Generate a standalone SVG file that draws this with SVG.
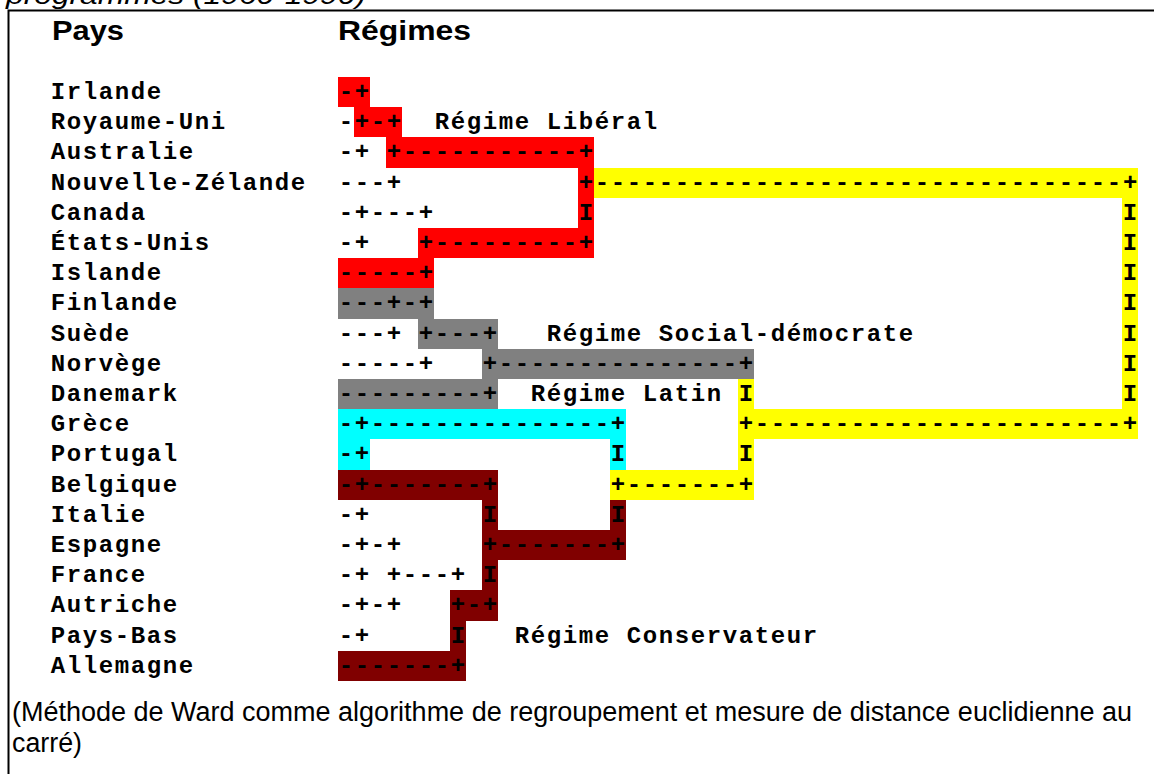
<svg xmlns="http://www.w3.org/2000/svg" width="1154" height="774" viewBox="0 0 1154 774">
<style>
.m{font-family:"Liberation Mono","Courier New",monospace;font-weight:bold;font-size:24px;letter-spacing:1.6px;fill:#000}
.h{font-family:"Liberation Sans",Arial,sans-serif;font-weight:bold;font-size:28px;fill:#000}
.n{font-family:"Liberation Sans",Arial,sans-serif;font-size:27px;fill:#000}
.t{font-family:"Liberation Sans",Arial,sans-serif;font-style:italic;font-size:26px;fill:#000}
.hl rect{shape-rendering:crispEdges}
.red{fill:#FF0000}.gray{fill:#808080}.yel{fill:#FFFF00}.cyan{fill:#00FFFF}.dred{fill:#800000}
</style>
<rect width="1154" height="774" fill="#fff"/>
<text class="t" x="6" y="4" textLength="360" lengthAdjust="spacingAndGlyphs">programmes (1960-1990)</text>
<path d="M8.5 774 V10.5 H1154" fill="none" stroke="#000" stroke-width="2"/>
<text class="h" x="52" y="40" textLength="72" lengthAdjust="spacingAndGlyphs">Pays</text>
<text class="h" x="338" y="40" textLength="133" lengthAdjust="spacingAndGlyphs">Régimes</text>

<g id="clusters" class="hl">
  <g id="cluster-liberal" class="red">
    <rect x="338" y="77" width="32" height="30.2"/>
    <rect x="354" y="107.2" width="48" height="30.2"/>
    <rect x="386" y="137.4" width="208" height="30.2"/>
    <rect x="578" y="167.6" width="16" height="60.4"/>
    <rect x="418" y="228" width="176" height="30.2"/>
    <rect x="338" y="258.2" width="96" height="30.2"/>
  </g>
  <g id="cluster-social-democrate" class="gray">
    <rect x="338" y="288.4" width="96" height="30.2"/>
    <rect x="418" y="318.6" width="80" height="30.2"/>
    <rect x="482" y="348.8" width="272" height="30.2"/>
    <rect x="338" y="379" width="160" height="30.2"/>
  </g>
  <g id="cluster-fusion" class="yel">
    <rect x="594" y="167.6" width="544" height="30.2"/>
    <rect x="1122" y="197.8" width="16" height="211.4"/>
    <rect x="738" y="409.2" width="400" height="30.2"/>
    <rect x="738" y="379" width="16" height="90.6"/>
    <rect x="610" y="469.6" width="144" height="30.2"/>
  </g>
  <g id="cluster-latin" class="cyan">
    <rect x="338" y="409.2" width="288" height="30.2"/>
    <rect x="338" y="439.4" width="32" height="30.2"/>
    <rect x="610" y="439.4" width="16" height="30.2"/>
  </g>
  <g id="cluster-conservateur" class="dred">
    <rect x="338" y="469.6" width="160" height="30.2"/>
    <rect x="482" y="499.8" width="16" height="90.6"/>
    <rect x="610" y="499.8" width="16" height="30.2"/>
    <rect x="482" y="530" width="144" height="30.2"/>
    <rect x="450" y="590.4" width="48" height="30.2"/>
    <rect x="450" y="620.6" width="16" height="30.2"/>
    <rect x="338" y="650.8" width="128" height="30.2"/>
  </g>
</g>

<g id="nodes">
  <g id="node-irlande"><text class="m" x="50.8" y="99">Irlande</text></g>
  <g id="node-royaume-uni"><text class="m" x="50.8" y="129.2">Royaume-Uni</text></g>
  <g id="node-australie"><text class="m" x="50.8" y="159.4">Australie</text></g>
  <g id="node-nouvelle-zelande"><text class="m" x="50.8" y="189.6">Nouvelle-Zélande</text></g>
  <g id="node-canada"><text class="m" x="50.8" y="219.8">Canada</text></g>
  <g id="node-etats-unis"><text class="m" x="50.8" y="250">États-Unis</text></g>
  <g id="node-islande"><text class="m" x="50.8" y="280.2">Islande</text></g>
  <g id="node-finlande"><text class="m" x="50.8" y="310.4">Finlande</text></g>
  <g id="node-suede"><text class="m" x="50.8" y="340.6">Suède</text></g>
  <g id="node-norvege"><text class="m" x="50.8" y="370.8">Norvège</text></g>
  <g id="node-danemark"><text class="m" x="50.8" y="401">Danemark</text></g>
  <g id="node-grece"><text class="m" x="50.8" y="431.2">Grèce</text></g>
  <g id="node-portugal"><text class="m" x="50.8" y="461.4">Portugal</text></g>
  <g id="node-belgique"><text class="m" x="50.8" y="491.6">Belgique</text></g>
  <g id="node-italie"><text class="m" x="50.8" y="521.8">Italie</text></g>
  <g id="node-espagne"><text class="m" x="50.8" y="552">Espagne</text></g>
  <g id="node-france"><text class="m" x="50.8" y="582.2">France</text></g>
  <g id="node-autriche"><text class="m" x="50.8" y="612.4">Autriche</text></g>
  <g id="node-pays-bas"><text class="m" x="50.8" y="642.6">Pays-Bas</text></g>
  <g id="node-allemagne"><text class="m" x="50.8" y="672.8">Allemagne</text></g>
</g>

<g id="connectors" class="m">
  <text class="m" y="99"><tspan x="338.8">-+</tspan></text>
  <text class="m" y="129.2"><tspan x="338.8">-+-+</tspan></text>
  <text class="m" y="159.4"><tspan x="338.8">-+</tspan><tspan x="386.8">+-----------+</tspan></text>
  <text class="m" y="189.6"><tspan x="338.8">---+</tspan><tspan x="578.8">+---------------------------------+</tspan></text>
  <text class="m" y="219.8"><tspan x="338.8">-+---+</tspan><tspan x="578.8">I</tspan><tspan x="1122.8">I</tspan></text>
  <text class="m" y="250"><tspan x="338.8">-+</tspan><tspan x="418.8">+---------+</tspan><tspan x="1122.8">I</tspan></text>
  <text class="m" y="280.2"><tspan x="338.8">-----+</tspan><tspan x="1122.8">I</tspan></text>
  <text class="m" y="310.4"><tspan x="338.8">---+-+</tspan><tspan x="1122.8">I</tspan></text>
  <text class="m" y="340.6"><tspan x="338.8">---+</tspan><tspan x="418.8">+---+</tspan><tspan x="1122.8">I</tspan></text>
  <text class="m" y="370.8"><tspan x="338.8">-----+</tspan><tspan x="482.8">+---------------+</tspan><tspan x="1122.8">I</tspan></text>
  <text class="m" y="401"><tspan x="338.8">---------+</tspan><tspan x="738.8">I</tspan><tspan x="1122.8">I</tspan></text>
  <text class="m" y="431.2"><tspan x="338.8">-+---------------+</tspan><tspan x="738.8">+-----------------------+</tspan></text>
  <text class="m" y="461.4"><tspan x="338.8">-+</tspan><tspan x="610.8">I</tspan><tspan x="738.8">I</tspan></text>
  <text class="m" y="491.6"><tspan x="338.8">-+-------+</tspan><tspan x="610.8">+-------+</tspan></text>
  <text class="m" y="521.8"><tspan x="338.8">-+</tspan><tspan x="482.8">I</tspan><tspan x="610.8">I</tspan></text>
  <text class="m" y="552"><tspan x="338.8">-+-+</tspan><tspan x="482.8">+-------+</tspan></text>
  <text class="m" y="582.2"><tspan x="338.8">-+</tspan><tspan x="386.8">+---+</tspan><tspan x="482.8">I</tspan></text>
  <text class="m" y="612.4"><tspan x="338.8">-+-+</tspan><tspan x="450.8">+-+</tspan></text>
  <text class="m" y="642.6"><tspan x="338.8">-+</tspan><tspan x="450.8">I</tspan></text>
  <text class="m" y="672.8"><tspan x="338.8">-------+</tspan></text>
</g>

<g id="regime-labels">
  <text class="m" x="434.8" y="129.2">Régime Libéral</text>
  <text class="m" x="546.8" y="340.6">Régime Social-démocrate</text>
  <text class="m" x="530.8" y="401">Régime Latin</text>
  <text class="m" x="514.8" y="642.6">Régime Conservateur</text>
</g>

<text class="n" x="12" y="721" textLength="1120" lengthAdjust="spacingAndGlyphs">(Méthode de Ward comme algorithme de regroupement et mesure de distance euclidienne au</text>
<text class="n" x="12" y="752" textLength="70" lengthAdjust="spacingAndGlyphs">carré)</text>
</svg>
